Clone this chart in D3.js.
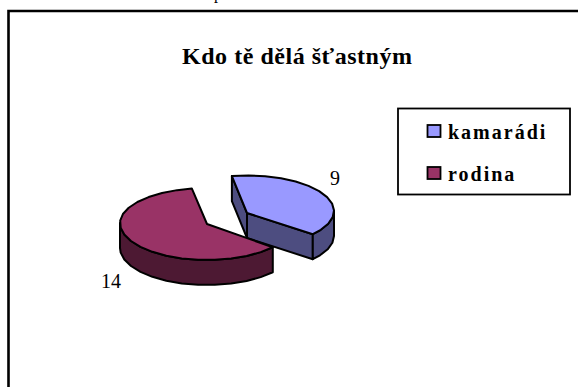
<!DOCTYPE html>
<html>
<head>
<meta charset="utf-8">
<script src="https://cdn.jsdelivr.net/npm/d3@7"></script>
<style>
    html, body { margin: 0; padding: 0; background: #fff; }
    svg { display: block; }
    text { font-family: "Liberation Serif", serif; fill: #000; }
</style>
</head>
<body>
<div id="chart"></div>
<script>
// Chart data
const title = 'Kdo tě dělá šťastným';
const categories = ['kamarádi', 'rodina'];
const values = [9, 14];
const colors = ['#9999ff', '#993366'];
const sideColors = ['#4d4d80', '#4d1933'];

const width = 578;
const height = 387;

const svg = d3.select('#chart')
    .append('svg')
    .attr('width', width)
    .attr('height', height);

// Line of text above the chart frame, only its descender is on the page
svg.append('text').attr('x', 214).attr('y', -1).attr('font-size', 16).text('p');

// Chart frame, open on the right and the bottom
svg.append('path')
    .attr('d', d3.line()([[8.5, height], [8.5, 11], [width, 11]]))
    .attr('fill', 'none')
    .attr('stroke', '#000')
    .attr('stroke-width', 2.6);

svg.append('text')
    .attr('x', 182)
    .attr('y', 64)
    .attr('font-size', 24)
    .attr('font-weight', 'bold')
    .attr('textLength', 230)
    .text(title);

// Pie angles, the first slice starts a little before twelve o'clock
const startAngle = -10 * Math.PI / 180;
const arcs = d3.pie().sort(null).startAngle(startAngle).endAngle(startAngle + 2 * Math.PI)(values);

// Projected ellipse of each slice (exploded, so each has its own centre)
const geom = [
    { cx: 247, cy: 211, a: 87, bTop: 35.5, bBottom: 35.5, depth: 25, apexDrop: 2 },
    { cx: 207, cy: 223, a: 87, bTop: 35, bBottom: 37, depth: 25, apexDrop: 1 }
];
const step = 11 * Math.PI / 180; // coarse on purpose, the outline is a rough polygon

function project(g, angle, drop) {
    const s = Math.cos(angle);
    return [
        g.cx + g.a * Math.sin(angle),
        g.cy - (s > 0 ? g.bTop : g.bBottom) * s + (drop || 0)
    ];
}

function rimPoints(g, a0, a1, drop) {
    const pts = d3.range(a0, a1, step).map(a => project(g, a, drop));
    pts.push(project(g, a1, drop));
    return pts;
}

const line = d3.line();

function face(group, pts, fill) {
    group.append('path')
        .attr('d', line(pts) + 'Z')
        .attr('fill', fill)
        .attr('stroke', '#000')
        .attr('stroke-width', 2)
        .attr('stroke-linejoin', 'round');
}

arcs.forEach((d, i) => {
    const g = geom[i];
    const group = svg.append('g').attr('class', 'slice');
    const apex = [g.cx, g.cy + g.apexDrop];
    const start = project(g, d.startAngle);
    const end = project(g, d.endAngle);
    const down = p => [p[0], p[1] + g.depth];

    // Cut faces that look towards the viewer, only the first slice shows them
    if (i === 0) {
        face(group, [apex, start, down(start), down(apex)], sideColors[i]);
        face(group, [apex, end, down(end), down(apex)], sideColors[i]);
    }

    // Outer wall, visible on the front half of the rim only
    const wallFrom = Math.max(d.startAngle, Math.PI / 2);
    const wallTo = Math.min(d.endAngle, 3 * Math.PI / 2);
    const wallTop = rimPoints(g, wallFrom, wallTo);
    const wallBottom = rimPoints(g, wallFrom, wallTo, g.depth).reverse();
    face(group, wallTop.concat(wallBottom), sideColors[i]);

    // Top face
    face(group, [apex].concat(rimPoints(g, d.startAngle, d.endAngle)), colors[i]);
});

// Value labels
const labelPos = [[330, 185], [101, 288]];
svg.selectAll('.value-label')
    .data(values)
    .enter()
    .append('text')
    .attr('class', 'value-label')
    .attr('x', (d, i) => labelPos[i][0])
    .attr('y', (d, i) => labelPos[i][1])
    .attr('font-size', 20)
    .text(d => d);

// Legend
svg.append('rect')
    .attr('x', 398)
    .attr('y', 108.5)
    .attr('width', 172)
    .attr('height', 86)
    .attr('fill', '#fff')
    .attr('stroke', '#000')
    .attr('stroke-width', 1.8);

const legendY = d3.scalePoint().domain(categories).range([131, 173]);

const legend = svg.selectAll('.legend-item')
    .data(categories)
    .enter()
    .append('g')
    .attr('class', 'legend-item')
    .attr('transform', d => `translate(0, ${legendY(d)})`);

legend.append('rect')
    .attr('x', 427.5)
    .attr('y', -6)
    .attr('width', 13)
    .attr('height', 12)
    .attr('fill', (d, i) => colors[i])
    .attr('stroke', '#000')
    .attr('stroke-width', 1.8);

legend.append('text')
    .attr('x', 448)
    .attr('y', 8)
    .attr('font-size', 20)
    .attr('font-weight', 'bold')
    .attr('letter-spacing', 2)
    .text(d => d);
</script>
</body>
</html>
